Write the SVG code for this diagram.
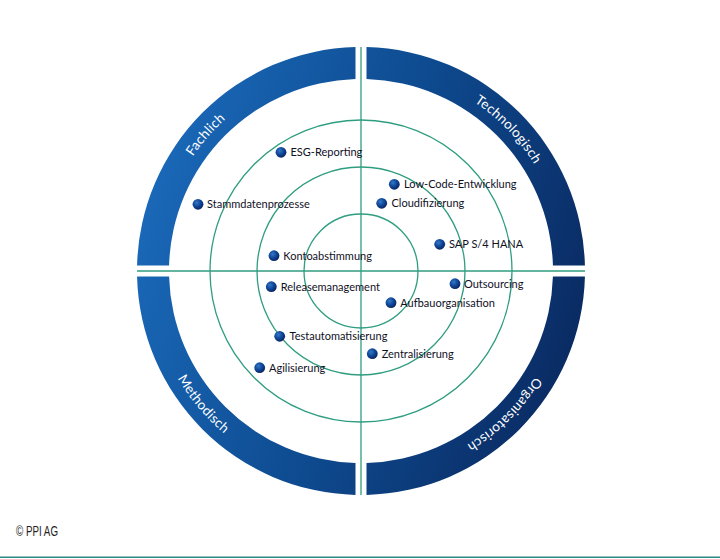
<svg xmlns="http://www.w3.org/2000/svg" width="720" height="559" viewBox="0 0 720 559">
<style>
.ring{fill:url(#ringGrad)}
.grid{fill:none;stroke:#2f9d80;stroke-width:1.3}
.lbl{font-family:Lato,"Open Sans","Liberation Sans",sans-serif;font-size:11px;fill:#10101f}
.rlbl{font-family:Lato,"Open Sans","Liberation Sans",sans-serif;font-size:13.5px;fill:#ffffff;letter-spacing:0.3px}
.dot{fill:url(#dotGrad)}
</style>
<defs>
<linearGradient id="ringGrad" gradientUnits="userSpaceOnUse" x1="137" y1="200" x2="585" y2="340">
<stop offset="0" stop-color="#1a69b9"/>
<stop offset="0.5" stop-color="#0e4b90"/>
<stop offset="1" stop-color="#0a2a62"/>
</linearGradient>
<radialGradient id="dotGrad" cx="0.38" cy="0.35" r="0.7">
<stop offset="0" stop-color="#3478c8"/>
<stop offset="0.5" stop-color="#10489a"/>
<stop offset="1" stop-color="#08215a"/>
</radialGradient>
<path id="tpTL" d="M157.5,271 A203.5,203.5 0 0 1 361,67.5"/>
<path id="tpTR" d="M361,67.5 A203.5,203.5 0 0 1 564.5,271"/>
<path id="tpBR" d="M564.5,271 A203.5,203.5 0 0 1 361,474.5"/>
<path id="tpBL" d="M148.5,271 A212.5,212.5 0 0 0 361,483.5"/>
</defs>
<rect width="720" height="559" fill="#ffffff"/>
<g id="ring-fachlich">
<path class="ring" d="M137.07,265.5 A224,224 0 0 1 355.5,47.07 L355.5,79.08 A192,192 0 0 0 169.08,265.5 Z"/>
<text class="rlbl"><textPath href="#tpTL" startOffset="45.9%" text-anchor="middle">Fachlich</textPath></text>
</g>
<g id="ring-technologisch">
<path class="ring" d="M366.5,47.07 A224,224 0 0 1 584.93,265.5 L552.92,265.5 A192,192 0 0 0 366.5,79.08 Z"/>
<text class="rlbl"><textPath href="#tpTR" startOffset="51.3%" text-anchor="middle">Technologisch</textPath></text>
</g>
<g id="ring-organisatorisch">
<path class="ring" d="M584.93,276.5 A224,224 0 0 1 366.5,494.93 L366.5,462.92 A192,192 0 0 0 552.92,276.5 Z"/>
<text class="rlbl"><textPath href="#tpBR" startOffset="50%" text-anchor="middle">Organisatorisch</textPath></text>
</g>
<g id="ring-methodisch">
<path class="ring" d="M355.5,494.93 A224,224 0 0 1 137.07,276.5 L169.08,276.5 A192,192 0 0 0 355.5,462.92 Z"/>
<text class="rlbl"><textPath href="#tpBL" startOffset="44.6%" text-anchor="middle">Methodisch</textPath></text>
</g>
<g id="grid">
<circle class="grid" cx="361" cy="271" r="57"/>
<circle class="grid" cx="361" cy="271" r="104"/>
<circle class="grid" cx="361" cy="271" r="151"/>
<line class="grid" x1="361" y1="47" x2="361" y2="495"/>
<line class="grid" x1="137" y1="271" x2="585" y2="271"/>
</g>
<g id="n-esg"><circle class="dot" cx="281" cy="152.3" r="5.4"/><text class="lbl" x="290.5" y="156.3">ESG-Reporting</text></g>
<g id="n-stammdaten"><circle class="dot" cx="198" cy="204.3" r="5.4"/><text class="lbl" x="207" y="208.3">Stammdatenprozesse</text></g>
<g id="n-konto"><circle class="dot" cx="274" cy="255.7" r="5.4"/><text class="lbl" x="283.3" y="259.7">Kontoabstimmung</text></g>
<g id="n-lowcode"><circle class="dot" cx="394.3" cy="184.3" r="5.4"/><text class="lbl" x="404" y="188.3">Low-Code-Entwicklung</text></g>
<g id="n-cloud"><circle class="dot" cx="381.7" cy="203.3" r="5.4"/><text class="lbl" x="391.5" y="207.3">Cloudifizierung</text></g>
<g id="n-sap"><circle class="dot" cx="439.7" cy="244.3" r="5.4"/><text class="lbl" x="449" y="248.3">SAP S/4 HANA</text></g>
<g id="n-release"><circle class="dot" cx="271.3" cy="286.7" r="5.4"/><text class="lbl" x="280.7" y="290.7">Releasemanagement</text></g>
<g id="n-test"><circle class="dot" cx="279.7" cy="336.3" r="5.4"/><text class="lbl" x="289.5" y="340.3">Testautomatisierung</text></g>
<g id="n-agil"><circle class="dot" cx="259.7" cy="367.7" r="5.4"/><text class="lbl" x="269" y="371.7">Agilisierung</text></g>
<g id="n-outsourcing"><circle class="dot" cx="455" cy="283.7" r="5.4"/><text class="lbl" x="464" y="287.7">Outsourcing</text></g>
<g id="n-aufbau"><circle class="dot" cx="391" cy="302.7" r="5.4"/><text class="lbl" x="400.3" y="306.7">Aufbauorganisation</text></g>
<g id="n-zentral"><circle class="dot" cx="372.3" cy="353.7" r="5.4"/><text class="lbl" x="381.7" y="357.7">Zentralisierung</text></g>
<text x="16" y="535.5" font-family="'Liberation Sans',Arial,sans-serif" font-size="14" fill="#222222" textLength="42" lengthAdjust="spacingAndGlyphs">© PPI AG</text>
<line x1="0" y1="557.3" x2="720" y2="557.3" stroke="#2a8a86" stroke-width="1.5"/>
</svg>
